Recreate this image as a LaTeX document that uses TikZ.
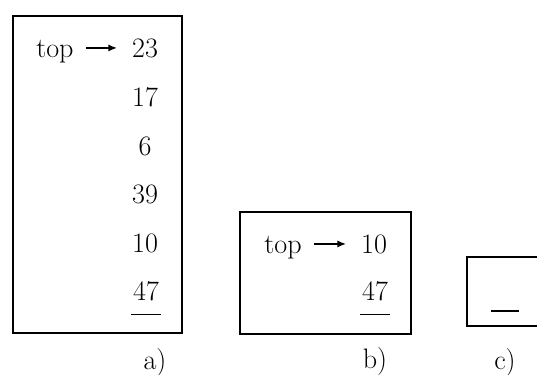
\documentclass[tikz,border=0pt]{standalone}
\usepackage{tikz}
\usetikzlibrary{arrows.meta,positioning,calc}

\begin{document}
\begin{tikzpicture}[x=0.025cm,y=-0.025cm,line width=0.9pt,
				every node/.style={font=\fontsize{20}{24}\selectfont},
				num/.style={anchor=base},
				ptr/.style={-{Latex[length=6pt,width=5pt]},shorten >=7pt,shorten <=5pt}]
				\useasboundingbox (0,0) rectangle (537,374);
				% a)
				\draw (13,16) rectangle (182,333);
				\node[num] (ta) at (55,57) {top};
				\node[num] (a1) at (145,57) {23};
				\node[num] (a2) at (145,106) {17};
				\node[num] (a3) at (145,155) {6};
				\node[num] (a4) at (145,203) {39};
				\node[num] (a5) at (145,252) {10};
				\node[num] (a6) at (146,300) {47};
				\draw[ptr] (ta.east |- a1.west) -- (a1.west);
				\draw ([xshift=2.5pt,yshift=-6pt]a6.south west) -- ([xshift=-2.5pt,yshift=-6pt]a6.south east);
				\node (la) at (155,362) {a)};
				% b)
				\draw (240,212) rectangle (411,334);
				\node[num] (tb) at (283,253) {top};
				\node[num] (b1) at (374,253) {10};
				\node[num] (b2) at (375,300) {47};
				\draw[ptr] (tb.east |- b1.west) -- (b1.west);
				\draw ([xshift=2.5pt,yshift=-6pt]b2.south west) -- ([xshift=-2.5pt,yshift=-6pt]b2.south east);
				\node (lb) at (375,361) {b)};
				% c)
				\draw (537,257) -- (467,257) -- (467,326) -- (537,326);
				\coordinate (c0) at (491,311);
				\coordinate (c1) at (519,311);
				\draw (c0) -- (c1);
				\node (lc) at (505,362) {c)};
			\end{tikzpicture}
\end{document}
